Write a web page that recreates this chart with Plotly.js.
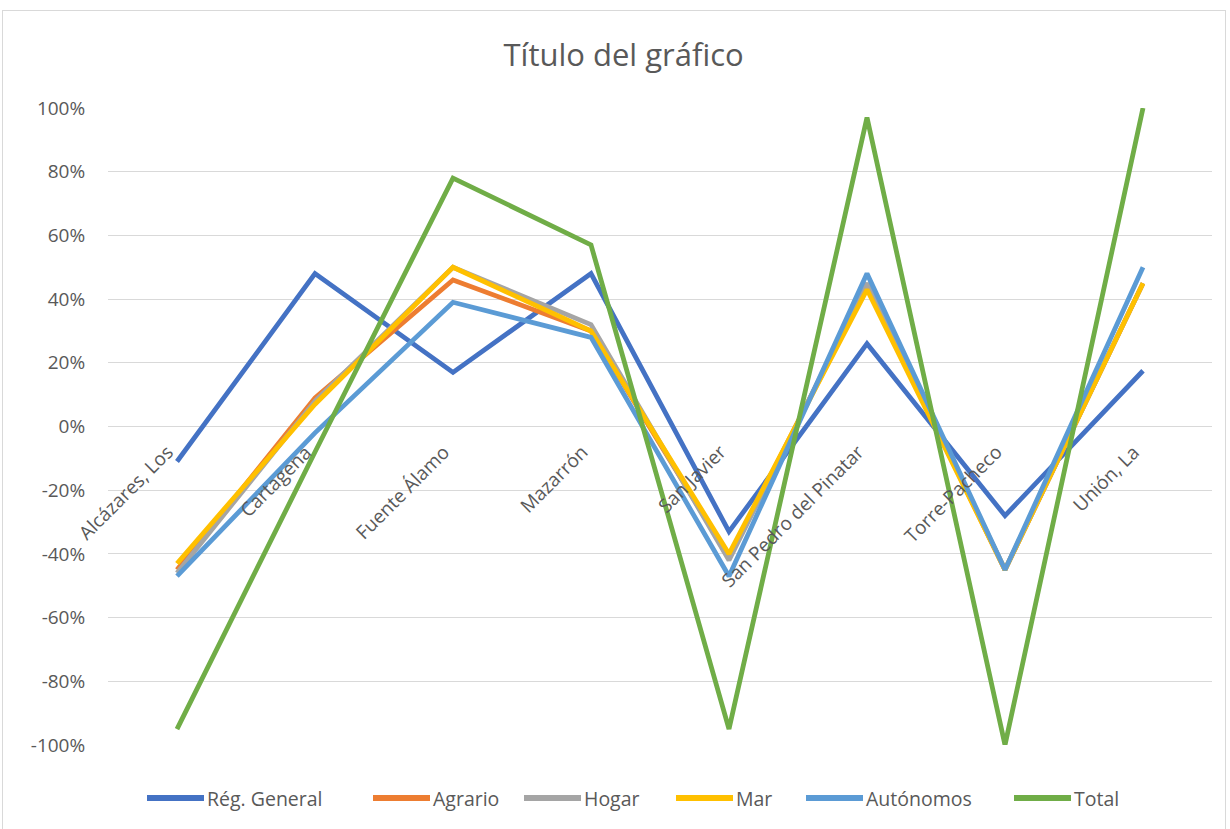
<!DOCTYPE html>
<html>
<head>
<meta charset="utf-8">
<script src="https://cdn.plot.ly/plotly-3.0.1.min.js"></script>
<style>
html,body{margin:0;padding:0;background:#fff;}
#wrap{position:relative;width:1230px;height:829px;overflow:hidden;}
#chart{position:absolute;left:0;top:0;width:1230px;height:829px;}
#frame{position:absolute;left:2px;top:10px;width:1222px;height:825px;border:1px solid #d9d9d9;pointer-events:none;}
</style>
</head>
<body>
<div id="wrap"><div id="chart"></div><div id="frame"></div></div>
<script>
const categories = ["Alcázares, Los","Cartagena","Fuente Álamo","Mazarrón","San Javier","San Pedro del Pinatar","Torre-Pacheco","Unión, La"];
const regGeneral = [-0.11, 0.48, 0.17, 0.48, -0.33, 0.26, -0.28, 0.175];
const agrario    = [-0.45, 0.09, 0.46, 0.30, -0.41, 0.44, -0.45, 0.45];
const hogar      = [-0.46, 0.08, 0.50, 0.32, -0.42, 0.45, -0.45, 0.45];
const mar        = [-0.43, 0.07, 0.50, 0.30, -0.40, 0.43, -0.45, 0.45];
const autonomos  = [-0.47, -0.02, 0.39, 0.28, -0.47, 0.48, -0.45, 0.50];
const total      = [-0.95, -0.08, 0.78, 0.57, -0.95, 0.97, -1.00, 1.00];
const seriesNames = ["Rég. General","Agrario","Hogar","Mar","Autónomos","Total"];
const seriesColors = ["#4472C4","#ED7D31","#A5A5A5","#FFC000","#5B9BD5","#70AD47"];
const seriesData = [regGeneral, agrario, hogar, mar, autonomos, total];
const yTicks = [-1,-0.8,-0.6,-0.4,-0.2,0,0.2,0.4,0.6,0.8,1];
const yTickText = ["-100%","-80%","-60%","-40%","-20%","0%","20%","40%","60%","80%","100%"];

// layout geometry (pixels)
const L = 108, R = 1212, T = 108, B = 745;
const px2x = p => (p - L) / (R - L);
const py2y = p => (B - p) / (B - T);
const legendStarts = [147, 373, 524, 676, 806, 1014];
const legendLineLen = 57, legendY = 798;

const traces = seriesData.map((d,i)=>({
  type:'scatter', mode:'lines', name:seriesNames[i], x:categories, y:d,
  line:{color:seriesColors[i], width:4.8}, cliponaxis:false, showlegend:false
}));

const annotations = categories.map(c=>({
  x:c, y:0, xref:'x', yref:'y', text:c, showarrow:false, textangle:-45,
  xanchor:'right', yanchor:'top', xshift:5, yshift:-10,
  font:{family:'Open Sans, sans-serif', size:19, color:'#595959'}
}));

const shapes = [];
seriesNames.forEach((n,i)=>{
  const s = legendStarts[i];
  shapes.push({type:'line', xref:'paper', yref:'paper',
    x0:px2x(s), x1:px2x(s+legendLineLen), y0:py2y(legendY), y1:py2y(legendY),
    line:{color:seriesColors[i], width:6}});
  annotations.push({xref:'paper', yref:'paper', x:px2x(s+legendLineLen+1), y:py2y(legendY),
    xanchor:'left', yanchor:'middle', text:n, showarrow:false,
    font:{family:'Open Sans, sans-serif', size:19.5, color:'#595959'}});
});

const layout = {
  width:1230, height:829,
  margin:{l:L, r:1230-R, t:T, b:829-B},
  paper_bgcolor:'#fff', plot_bgcolor:'#fff',
  title:{text:'Título del gráfico', x:0.507, xref:'container', y:1-55/829, yref:'container', yanchor:'middle', xanchor:'center',
    font:{family:'Open Sans, sans-serif', size:31, color:'#595959'}},
  xaxis:{type:'category', showticklabels:false, showgrid:false, zeroline:false, showline:false, ticks:'', range:[-0.5,7.5], fixedrange:true},
  yaxis:{range:[-1,1], tickmode:'array', tickvals:yTicks, ticktext:yTickText, showgrid:true, gridcolor:'#d9d9d9', gridwidth:1,
    zeroline:true, zerolinecolor:'#d9d9d9', zerolinewidth:1, showline:false,
    ticks:'outside', ticklen:18, tickcolor:'rgba(0,0,0,0)',
    tickfont:{family:'Open Sans, sans-serif', size:19, color:'#595959'}},
  showlegend:false,
  shapes:shapes,
  annotations:annotations
};

Plotly.newPlot('chart', traces, layout, {staticPlot:true, displayModeBar:false});
</script>
</body>
</html>
